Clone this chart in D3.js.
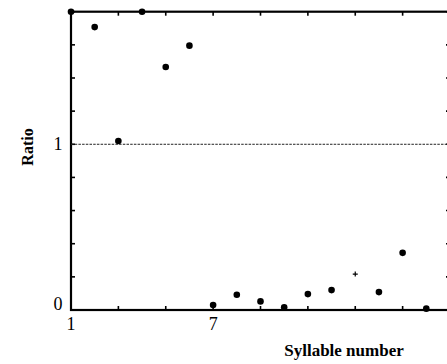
<!DOCTYPE html>
<html>
<head>
<meta charset="utf-8">
<script src="https://cdn.jsdelivr.net/npm/d3@7"></script>
<style>
  body { margin: 0; background: #fff; }
  svg { display: block; font-family: "Liberation Serif", "DejaVu Serif", serif; }
</style>
</head>
<body>
<svg id="chart" width="447" height="364"></svg>
<script>
// syllable positions and measured ratios
const syllables = [1, 2, 3, 4, 5, 6, 7, 8, 9, 10, 11, 12, 13, 14, 15, 16];
const ratios = [1.8, 1.707, 1.02, 1.8, 1.466, 1.595, 0.03, 0.092, 0.052, 0.016, 0.096, 0.12, 0.217, 0.108, 0.345, 0.008];
// 13th syllable is drawn with a small plus instead of a dot
const markers = ["dot", "dot", "dot", "dot", "dot", "dot", "dot", "dot", "dot", "dot", "dot", "dot", "plus", "dot", "dot", "dot"];
const xTickLabels = [1, 7];
const yTickLabels = [0, 1];
const referenceLine = 1;

const svg = d3.select("#chart");
const plotLeft = 71, plotRight = 450, plotTop = 11.7, plotBottom = 310;

const x = d3.scaleLinear().domain([1, 17]).range([plotLeft, plotRight]);
const y = d3.scaleLinear().domain([0, 1.8]).range([plotBottom, plotTop]);

const xTicks = d3.range(1, 18, 2);
const yTicks = d3.range(0, 1.81, 0.2);
const tickLen = 4;

// inward ticks on all four sides
const axisG = svg.append("g").attr("stroke", "#000").attr("stroke-width", 1.6);
xTicks.forEach((t) => {
  axisG.append("line").attr("x1", x(t)).attr("x2", x(t)).attr("y1", plotBottom).attr("y2", plotBottom - tickLen);
  axisG.append("line").attr("x1", x(t)).attr("x2", x(t)).attr("y1", plotTop).attr("y2", plotTop + tickLen);
});
yTicks.forEach((t) => {
  axisG.append("line").attr("x1", plotLeft).attr("x2", plotLeft + tickLen).attr("y1", y(t)).attr("y2", y(t));
  axisG.append("line").attr("x1", plotRight).attr("x2", plotRight - tickLen).attr("y1", y(t)).attr("y2", y(t));
});

// frame
svg.append("rect")
  .attr("x", plotLeft).attr("y", plotTop)
  .attr("width", plotRight - plotLeft).attr("height", plotBottom - plotTop)
  .attr("fill", "none").attr("stroke", "#000").attr("stroke-width", 2.2);

// dashed line at ratio 1
svg.append("line")
  .attr("x1", plotLeft).attr("x2", plotRight)
  .attr("y1", y(referenceLine)).attr("y2", y(referenceLine))
  .attr("stroke", "#222").attr("stroke-width", 1)
  .attr("stroke-dasharray", "2.5,1.2");

// tick labels
svg.selectAll(".xlab").data(xTickLabels).enter().append("text")
  .attr("x", (d) => x(d)).attr("y", 330)
  .attr("text-anchor", "middle").attr("font-size", 18)
  .text((d) => d);

svg.selectAll(".ylab").data(yTickLabels).enter().append("text")
  .attr("x", 58).attr("y", (d) => (d === 0 ? y(d) - 0.5 : y(d) + 6))
  .attr("text-anchor", "middle").attr("font-size", 18)
  .text((d) => d);

// axis titles
svg.append("text")
  .attr("x", 344).attr("y", 356)
  .attr("text-anchor", "middle").attr("font-size", 17).attr("font-weight", "bold")
  .text("Syllable number");

svg.append("text")
  .attr("transform", "translate(33,147) rotate(-90)")
  .attr("text-anchor", "middle").attr("font-size", 16).attr("font-weight", "bold")
  .text("Ratio");

// points
const pts = syllables.map((s, i) => ({ s, r: ratios[i], m: markers[i] }));
svg.selectAll("circle").data(pts.filter((d) => d.m === "dot")).enter().append("circle")
  .attr("cx", (d) => x(d.s)).attr("cy", (d) => y(d.r))
  .attr("r", 3.3).attr("fill", "#000");

const plus = pts.filter((d) => d.m === "plus");
svg.selectAll(".plus").data(plus).enter().append("path")
  .attr("d", (d) => {
    const cx = x(d.s), cy = y(d.r);
    return `M${cx - 2.5},${cy}H${cx + 2.5}M${cx},${cy - 2.5}V${cy + 2.5}`;
  })
  .attr("stroke", "#000").attr("stroke-width", 1.2);
</script>
</body>
</html>
